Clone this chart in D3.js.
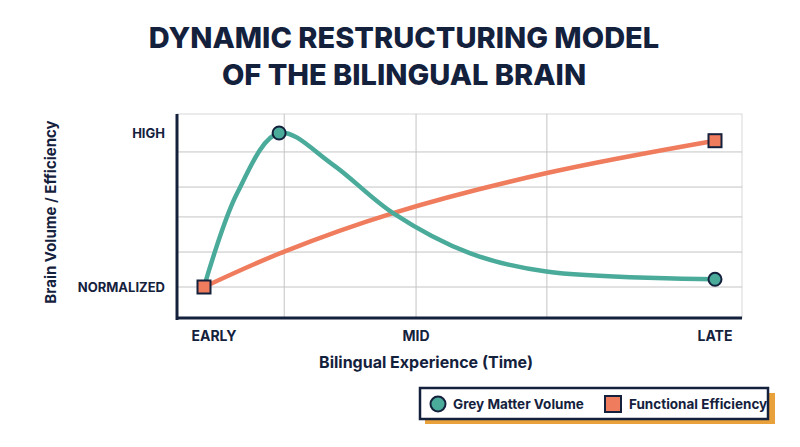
<!DOCTYPE html><html><head><script src="https://d3js.org/d3.v7.min.js"></script>
<style>body{margin:0;background:#fff}text{font-family:Inter,"Open Sans",sans-serif}</style></head><body><svg id="c" width="800" height="447"></svg>
<script>
const greyX=[0,0.65,1.47,2.5,3.7,5.2,6.7,10];
const greyY=[0,0.61,1,0.8,0.48,0.22,0.1,0.05];
const funcX=[0,1.57,3.7,6.71,10];
const funcY=[0,0.23,0.48,0.74,0.95];
const xTickVals=[0,4.15,10];
const xTickLabels=["EARLY","MID","LATE"];
const xGrid=[1.57,4.15,6.71];
const yGrid=[0,0.227,0.455,0.649,0.877];
const yTickVals=[0,1];
const yTickLabels=["NORMALIZED","HIGH"];
const navy="#14213d",teal="#4aab9b",orange="#f07c5e";
const svg=d3.select("#c");
const x=d3.scaleLinear().domain([0,10]).range([204,715]);
const y=d3.scaleLinear().domain([0,1]).range([287,133]);
const L=177,R=742,T=114,B=318;
svg.append("text").attr("x",404).attr("y",48).attr("text-anchor","middle").attr("font-size",29).attr("font-weight",800).attr("fill",navy).text("DYNAMIC RESTRUCTURING MODEL");
svg.append("text").attr("x",404).attr("y",85).attr("text-anchor","middle").attr("font-size",29).attr("font-weight",800).attr("fill",navy).text("OF THE BILINGUAL BRAIN");
const g=svg.append("g");
g.append("rect").attr("x",L).attr("y",T).attr("width",R-L).attr("height",B-T).attr("fill","none").attr("stroke","#d8d8d8");
xGrid.forEach(v=>g.append("line").attr("x1",x(v)).attr("x2",x(v)).attr("y1",T).attr("y2",B).attr("stroke","#c4c4c4"));
yGrid.forEach(v=>g.append("line").attr("x1",L).attr("x2",R).attr("y1",y(v)).attr("y2",y(v)).attr("stroke","#c4c4c4"));
g.append("line").attr("x1",L).attr("x2",L).attr("y1",T).attr("y2",B+2).attr("stroke",navy).attr("stroke-width",3);
g.append("line").attr("x1",L-1).attr("x2",R).attr("y1",B).attr("y2",B).attr("stroke",navy).attr("stroke-width",3);
xTickVals.forEach((v,i)=>g.append("text").attr("x",x(v)+10*(i==0)).attr("y",341).attr("text-anchor","middle").attr("font-size",14).attr("font-weight",700).attr("fill",navy).text(xTickLabels[i]));
yTickVals.forEach((v,i)=>g.append("text").attr("x",165).attr("y",y(v)+5).attr("text-anchor","end").attr("font-size",13).attr("font-weight",700).attr("fill",navy).text(yTickLabels[i]));
svg.append("text").attr("x",426).attr("y",368).attr("text-anchor","middle").attr("font-size",16).attr("font-weight",700).attr("fill",navy).text("Bilingual Experience (Time)");
svg.append("text").attr("transform","translate(56,212) rotate(-90)").attr("text-anchor","middle").attr("font-size",15).attr("font-weight",700).attr("fill",navy).text("Brain Volume / Efficiency");
const line=d3.line().curve(d3.curveCatmullRom.alpha(0.5));
g.append("path").attr("d",line(funcX.map((v,i)=>[x(v),y(funcY[i])]))).attr("fill","none").attr("stroke",orange).attr("stroke-width",4.5);
g.append("path").attr("d",line(greyX.map((v,i)=>[x(v),y(greyY[i])]))).attr("fill","none").attr("stroke",teal).attr("stroke-width",4.5);
[2,7].forEach(i=>g.append("circle").attr("cx",x(greyX[i])).attr("cy",y(greyY[i])).attr("r",6.5).attr("fill",teal).attr("stroke",navy).attr("stroke-width",2));
[0,4].forEach(i=>g.append("rect").attr("x",x(funcX[i])-6.5).attr("y",y(funcY[i])-6.5).attr("width",13).attr("height",13).attr("fill",orange).attr("stroke",navy).attr("stroke-width",2));
const lg=svg.append("g");
lg.append("rect").attr("x",425).attr("y",393).attr("width",350).attr("height",31).attr("fill","#e9a23b");
lg.append("rect").attr("x",420).attr("y",388).attr("width",348).attr("height",31).attr("fill","#fff").attr("stroke",navy).attr("stroke-width",2.5);
lg.append("circle").attr("cx",438).attr("cy",404).attr("r",7.5).attr("fill",teal).attr("stroke",navy).attr("stroke-width",2);
lg.append("text").attr("x",453).attr("y",409).attr("font-size",13.5).attr("font-weight",700).attr("fill",navy).text("Grey Matter Volume");
lg.append("rect").attr("x",605).attr("y",396).attr("width",16).attr("height",16).attr("fill",orange).attr("stroke",navy).attr("stroke-width",2);
lg.append("text").attr("x",629).attr("y",409).attr("font-size",13.5).attr("font-weight",700).attr("fill",navy).text("Functional Efficiency");
</script></body></html>
